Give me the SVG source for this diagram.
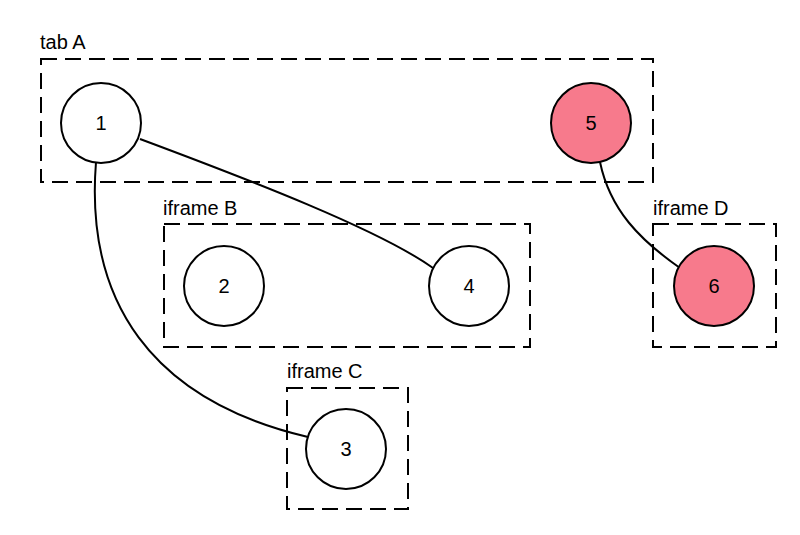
<svg xmlns="http://www.w3.org/2000/svg" width="800" height="535" viewBox="0 0 800 535">
<style>
.box{fill:none;stroke:#000;stroke-width:2;stroke-dasharray:16,8}
.n{fill:#fff;stroke:#000;stroke-width:2}
.p{fill:#f77a8c}
.e{fill:none;stroke:#000;stroke-width:2}
text{font-family:"Helvetica","Liberation Sans",Arial,sans-serif;font-size:20px;fill:#000}
.c{text-anchor:middle;dominant-baseline:central}
</style>
<rect width="800" height="535" fill="#fff"/>
<g id="groups">
<rect class="box" x="41" y="59" width="612" height="123"/><text x="40" y="49">tab A</text>
<rect class="box" x="164" y="224" width="366" height="123"/><text x="163" y="215">iframe B</text>
<rect class="box" x="287" y="388" width="121" height="121"/><text x="287" y="378">iframe C</text>
<rect class="box" x="653" y="224" width="123" height="123"/><text x="653" y="215">iframe D</text>
</g>
<g id="connectors">
<path class="e" d="M140,139 C250,180 380,230 433,268"/>
<path class="e" d="M96,162 C85,300 150,400 308,437"/>
<path class="e" d="M600,162 C610,210 640,240 680,268"/>
</g>
<g id="n1"><circle class="n" cx="101" cy="123" r="40"/><text class="c" x="101" y="123">1</text></g>
<g id="n5"><circle class="n p" cx="591" cy="123" r="40"/><text class="c" x="591" y="123">5</text></g>
<g id="n2"><circle class="n" cx="224" cy="286" r="40"/><text class="c" x="224" y="286">2</text></g>
<g id="n4"><circle class="n" cx="469" cy="286" r="40"/><text class="c" x="469" y="286">4</text></g>
<g id="n3"><circle class="n" cx="346" cy="449" r="40"/><text class="c" x="346" y="449">3</text></g>
<g id="n6"><circle class="n p" cx="714" cy="286" r="40"/><text class="c" x="714" y="286">6</text></g>
</svg>
